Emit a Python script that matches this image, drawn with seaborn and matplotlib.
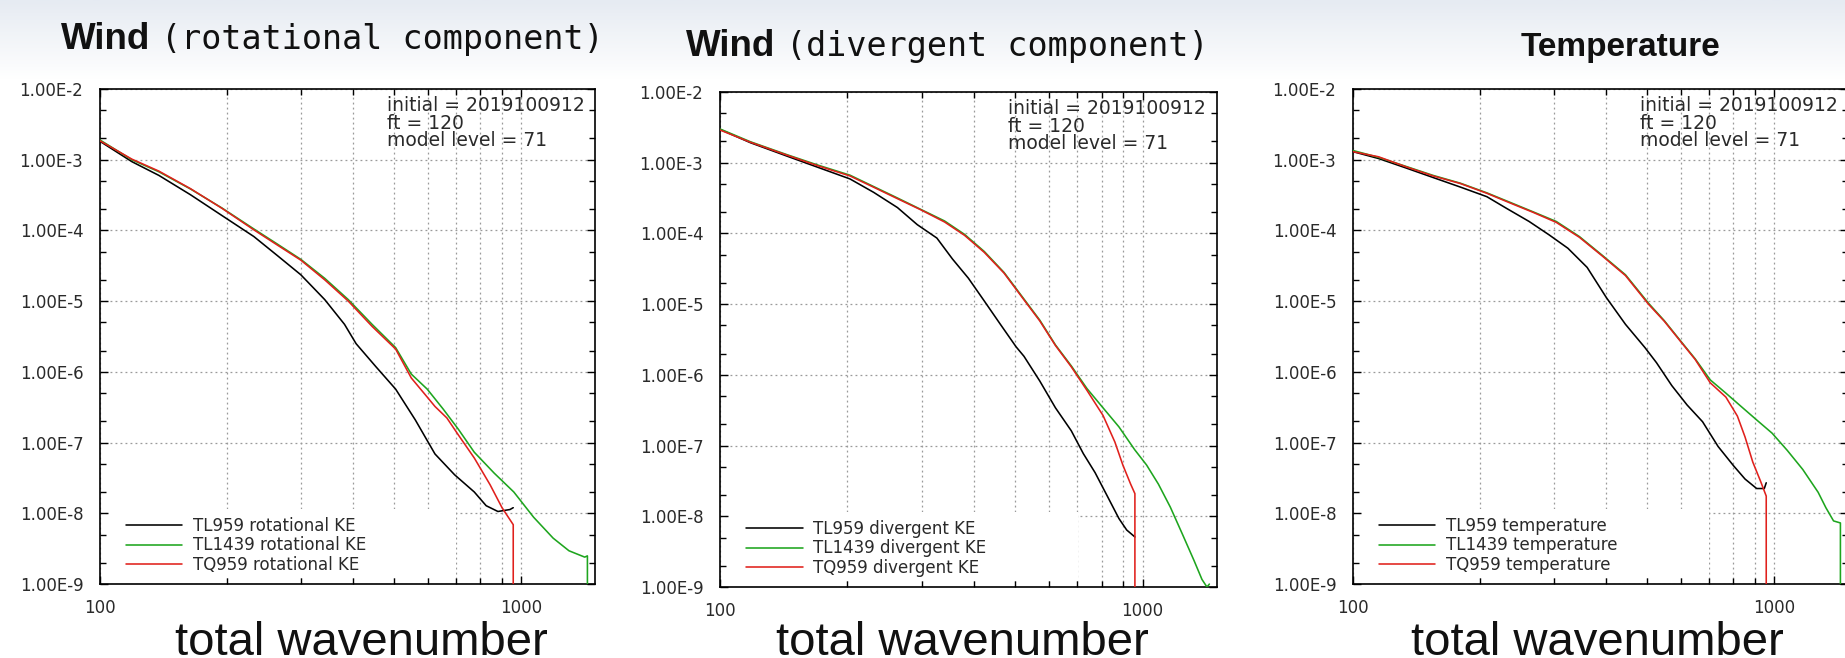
import numpy as np
import pandas as pd
import matplotlib
matplotlib.use("Agg")
import matplotlib.pyplot as plt
import matplotlib.ticker as mticker
from matplotlib.patches import Rectangle
from matplotlib.colors import LinearSegmentedColormap
from matplotlib import font_manager as fm
import seaborn as sns

# ---------------- data ----------------
# Panel 1: rotational KE
k_rot_tl959 = [100, 119, 138, 164, 195, 232, 264, 300, 342, 381, 406, 452, 504, 561, 625, 696, 775, 827, 882, 942, 959]
ke_rot_tl959 = [1.82e-3, 9.4e-4, 6.0e-4, 3.2e-4, 1.62e-4, 8.2e-5, 4.4e-5, 2.36e-5, 1.05e-5, 4.7e-6, 2.5e-6, 1.19e-6,
                5.7e-7, 2.1e-7, 6.9e-8, 3.5e-8, 2.0e-8, 1.28e-8, 1.06e-8, 1.13e-8, 1.2e-8]
k_rot_tl1439 = [100, 119, 138, 164, 195, 232, 264, 300, 342, 389, 443, 504, 549, 599, 653, 711, 775, 864, 962, 1072,
                1193, 1301, 1418, 1439, 1439]
ke_rot_tl1439 = [1.9e-3, 1.0e-3, 6.75e-4, 3.86e-4, 2.07e-4, 1.05e-4, 6.4e-5, 3.9e-5, 2.1e-5, 1.05e-5, 4.7e-6, 2.2e-6,
                 9.3e-7, 5.7e-7, 3.0e-7, 1.53e-7, 7.3e-8, 3.7e-8, 2.0e-8, 8.8e-9, 4.45e-9, 2.95e-9, 2.4e-9, 2.5e-9, 1e-12]
k_rot_tq959 = [100, 119, 138, 164, 195, 232, 264, 300, 342, 389, 443, 504, 549, 599, 625, 667, 711, 775, 845, 902, 959, 959]
ke_rot_tq959 = [1.85e-3, 1.02e-3, 6.9e-4, 3.9e-4, 2.05e-4, 1.02e-4, 6.2e-5, 3.8e-5, 2.0e-5, 1.0e-5, 4.4e-6, 2.1e-6,
                8.2e-7, 4.4e-7, 3.24e-7, 2.23e-7, 1.27e-7, 6.05e-8, 2.53e-8, 1.2e-8, 6.9e-9, 1e-12]

# Panel 2: divergent KE
k_div_tl959 = [100, 118, 144, 171, 203, 231, 263, 293, 326, 355, 387, 422, 460, 502, 524, 571, 622, 678, 724, 772,
               824, 879, 917, 959]
ke_div_tl959 = [2.96e-3, 1.92e-3, 1.24e-3, 8.55e-4, 5.9e-4, 3.81e-4, 2.32e-4, 1.33e-4, 8.6e-5, 4.34e-5, 2.33e-5,
                1.11e-5, 5.26e-6, 2.49e-6, 1.83e-6, 8.2e-7, 3.42e-7, 1.62e-7, 7.7e-8, 4.14e-8, 1.96e-8, 9.3e-9,
                6.4e-9, 5.1e-9]
k_div_tl1439 = [100, 118, 144, 171, 203, 231, 263, 299, 340, 379, 422, 470, 524, 571, 622, 678, 739, 806, 879, 958,
                1022, 1090, 1163, 1241, 1323, 1382, 1420, 1439]
ke_div_tl1439 = [3.0e-3, 1.98e-3, 1.3e-3, 9.2e-4, 6.67e-4, 4.6e-4, 3.17e-4, 2.18e-4, 1.5e-4, 9.7e-5, 5.56e-5,
                 2.81e-5, 1.18e-5, 5.95e-6, 2.65e-6, 1.34e-6, 6.37e-7, 3.42e-7, 1.84e-7, 8.73e-8, 5.31e-8, 2.85e-8,
                 1.35e-8, 5.67e-9, 2.38e-9, 1.28e-9, 1.0e-9, 1.1e-9]
k_div_tq959 = [100, 118, 144, 171, 203, 231, 263, 299, 340, 379, 422, 470, 524, 571, 622, 678, 739, 806, 860, 898,
               937, 959, 959]
ke_div_tq959 = [2.9e-3, 1.95e-3, 1.28e-3, 9.0e-4, 6.5e-4, 4.5e-4, 3.1e-4, 2.15e-4, 1.45e-4, 9.4e-5, 5.4e-5, 2.75e-5,
                1.15e-5, 5.8e-6, 2.6e-6, 1.3e-6, 6.0e-7, 2.67e-7, 1.12e-7, 5.31e-8, 2.85e-8, 2.09e-8, 1e-12]

# Panel 3: temperature
k_tmp_tl959 = [100, 115, 134, 155, 180, 208, 231, 262, 292, 324, 360, 400, 444, 494, 526, 572, 622, 677, 737, 802,
               854, 910, 949, 959]
v_tmp_tl959 = [1.3e-3, 1.04e-3, 7.6e-4, 5.6e-4, 4.1e-4, 3.0e-4, 2.07e-4, 1.34e-4, 8.7e-5, 5.6e-5, 3.0e-5, 1.12e-5,
               4.7e-6, 2.2e-6, 1.35e-6, 6.4e-7, 3.4e-7, 1.97e-7, 8.8e-8, 4.7e-8, 3.05e-8, 2.24e-8, 2.24e-8, 2.7e-8]
k_tmp_tl1439 = [100, 115, 134, 155, 180, 208, 236, 268, 304, 345, 392, 444, 504, 549, 597, 650, 706, 769, 836, 910,
                990, 1076, 1171, 1274, 1329, 1386, 1439, 1439]
v_tmp_tl1439 = [1.35e-3, 1.08e-3, 8.0e-4, 6.0e-4, 4.65e-4, 3.4e-4, 2.5e-4, 1.83e-4, 1.34e-4, 8.2e-5, 4.4e-5,
                2.36e-5, 9.3e-6, 5.3e-6, 2.85e-6, 1.53e-6, 7.7e-7, 5.0e-7, 3.24e-7, 2.09e-7, 1.36e-7, 7.75e-8,
                4.17e-8, 1.98e-8, 1.2e-8, 7.8e-9, 7.3e-9, 1e-12]
k_tmp_tq959 = [100, 115, 134, 155, 180, 208, 236, 268, 304, 345, 392, 444, 504, 549, 597, 650, 706, 769, 819, 854,
               891, 929, 959, 959]
v_tmp_tq959 = [1.3e-3, 1.1e-3, 7.9e-4, 5.9e-4, 4.6e-4, 3.35e-4, 2.45e-4, 1.8e-4, 1.3e-4, 8.0e-5, 4.3e-5, 2.3e-5,
               9.0e-6, 5.2e-6, 2.8e-6, 1.5e-6, 7.0e-7, 4.4e-7, 2.37e-7, 1.2e-7, 5.3e-8, 2.87e-8, 1.75e-8, 1e-12]

run_names = ["TL959", "TL1439", "TQ959"]
panel_suffix = ["rotational KE", "divergent KE", "temperature"]
title_main = ["Wind", "Wind", "Temperature"]
title_sub = ["(rotational component)", "(divergent component)", ""]
annotation = "initial = 2019100912\nft = 120\nmodel level = 71"
xlabel_text = "total wavenumber"
y_ticks = [1e-9, 1e-8, 1e-7, 1e-6, 1e-5, 1e-4, 1e-3, 1e-2]
y_tick_labels = ["1.00E-9", "1.00E-8", "1.00E-7", "1.00E-6", "1.00E-5", "1.00E-4", "1.00E-3", "1.00E-2"]
x_ticks = [100, 1000]
x_tick_labels = ["100", "1000"]
x_minor = [200, 300, 400, 500, 600, 700, 800, 900]

panels = [
    [(k_rot_tl959, ke_rot_tl959), (k_rot_tl1439, ke_rot_tl1439), (k_rot_tq959, ke_rot_tq959)],
    [(k_div_tl959, ke_div_tl959), (k_div_tl1439, ke_div_tl1439), (k_div_tq959, ke_div_tq959)],
    [(k_tmp_tl959, v_tmp_tl959), (k_tmp_tl1439, v_tmp_tl1439), (k_tmp_tq959, v_tmp_tq959)],
]
colors = ["#000000", "#1ea51e", "#e0201c"]

# ---------------- fonts ----------------
sns.set_style("ticks")
plt.rcParams["font.family"] = ["DejaVu Sans"]
avail = {f.name for f in fm.fontManager.ttflist}
if "Liberation Sans Narrow" in avail:
    title_family, title_sizes = ["Liberation Sans Narrow", "DejaVu Sans"], [29, 29, 29]
else:
    title_family, title_sizes = ["Liberation Sans", "DejaVu Sans"], [26.5, 26.5, 24]
small_font = ["DejaVu Sans"]

# ---------------- figure ----------------
W, H = 1845, 658
fig = plt.figure(figsize=(W / 100, H / 100), dpi=100)
fig.patch.set_facecolor("white")

bg = fig.add_axes([0, 1 - 80 / H, 1, 80 / H], zorder=-5)
grad = np.linspace(0, 1, 64)[:, None]
cm = LinearSegmentedColormap.from_list("bgc", ["#e6ebf2", "#ffffff"])
bg.imshow(grad, aspect="auto", cmap=cm, extent=[0, 1, 0, 1], origin="upper")
bg.set_axis_off()

axes_px = [(100, 89, 495, 495), (720, 92, 497, 495), (1353, 89, 495, 495)]
xlabel_center = [361, 962, 1597]
title_pos = [(61, 49), (686, 56), (1521, 56)]

def px_rect(l, t, w, h):
    return [l / W, 1 - (t + h) / H, w / W, h / H]

for i, (ax_px, pdata) in enumerate(zip(axes_px, panels)):
    ax = fig.add_axes(px_rect(*ax_px))
    frames = []
    for name, (kk, vv) in zip(run_names, pdata):
        frames.append(pd.DataFrame({"k": kk, "value": vv, "run": f"{name} {panel_suffix[i]}"}))
    df = pd.concat(frames, ignore_index=True)
    hue_order = [f"{n} {panel_suffix[i]}" for n in run_names]
    sns.lineplot(data=df, x="k", y="value", hue="run", hue_order=hue_order,
                 palette=colors, estimator=None, sort=False, linewidth=1.15, ax=ax, zorder=3)
    ax.set_xscale("log")
    ax.set_yscale("log")
    ax.set_xlim(100, 1500)
    ax.set_ylim(1e-9, 1e-2)
    ax.set_axisbelow(True)

    ax.xaxis.set_major_locator(mticker.FixedLocator(x_ticks))
    ax.xaxis.set_major_formatter(mticker.FixedFormatter(x_tick_labels))
    ax.xaxis.set_minor_locator(mticker.FixedLocator(x_minor))
    ax.xaxis.set_minor_formatter(mticker.NullFormatter())
    ax.yaxis.set_major_locator(mticker.FixedLocator(y_ticks))
    ax.yaxis.set_major_formatter(mticker.FixedFormatter(y_tick_labels))
    ymin = [m * 10.0 ** e for e in range(-9, -2) for m in (2, 5)]
    ax.yaxis.set_minor_locator(mticker.FixedLocator(ymin))
    ax.yaxis.set_minor_formatter(mticker.NullFormatter())

    ax.tick_params(which="both", direction="in", top=True, right=True, colors="black")
    ax.tick_params(which="major", length=6, width=1, labelsize=12, labelcolor="#2a2a2a")
    ax.tick_params(axis="y", which="major", pad=12)
    ax.tick_params(axis="x", which="major", pad=11)
    ax.tick_params(which="minor", length=4, width=1)
    for lab in ax.get_xticklabels() + ax.get_yticklabels():
        lab.set_family(small_font)

    ax.grid(True, axis="y", which="major", ls=(0, (1.5, 2.5)), color="#9a9a9a", lw=0.9)
    ax.grid(True, axis="x", which="both", ls=(0, (1.5, 2.5)), color="#9a9a9a", lw=0.9)
    for sp in ax.spines.values():
        sp.set_color("black")
        sp.set_linewidth(1.2)
    ax.set_xlabel("")
    ax.set_ylabel("")

    ax.add_patch(Rectangle((0.02, 0.012), 0.70, 0.14, transform=ax.transAxes,
                           facecolor="white", edgecolor="none", zorder=1))

    handles, labels = ax.get_legend_handles_labels()
    leg = ax.legend(handles, labels, loc="lower left", bbox_to_anchor=(0.052, 0.02), frameon=False,
                    prop={"family": small_font, "size": 12}, handlelength=3.4, handletextpad=0.65,
                    labelspacing=0.1, borderpad=0, borderaxespad=0)
    for t in leg.get_texts():
        t.set_color("#2a2a2a")

    ax.text(0.58, 0.985, annotation, transform=ax.transAxes, va="top", ha="left",
            fontsize=13.5, linespacing=0.9, color="#2a2a2a", family=small_font)

    fig.text(xlabel_center[i] / W, 1 - 655 / H, xlabel_text, ha="center", va="baseline",
             fontsize=34, family=["Liberation Sans", "DejaVu Sans"], color="#111111")

# titles
fig.canvas.draw()
renderer = fig.canvas.get_renderer()
for i in range(3):
    x0, yb = title_pos[i]
    t = fig.text(x0 / W, 1 - yb / H, title_main[i], ha="left", va="baseline",
                 fontsize=title_sizes[i], fontweight="bold", family=title_family, color="#111111")
    if title_sub[i]:
        bb = t.get_window_extent(renderer=renderer)
        fig.text((bb.x1 + 11) / W, 1 - yb / H, title_sub[i], ha="left", va="baseline",
                 fontsize=24, fontweight="normal", family=["DejaVu Sans Mono", "DejaVu Sans"],
                 color="#111111")

fig.savefig("out.png", dpi=100)
